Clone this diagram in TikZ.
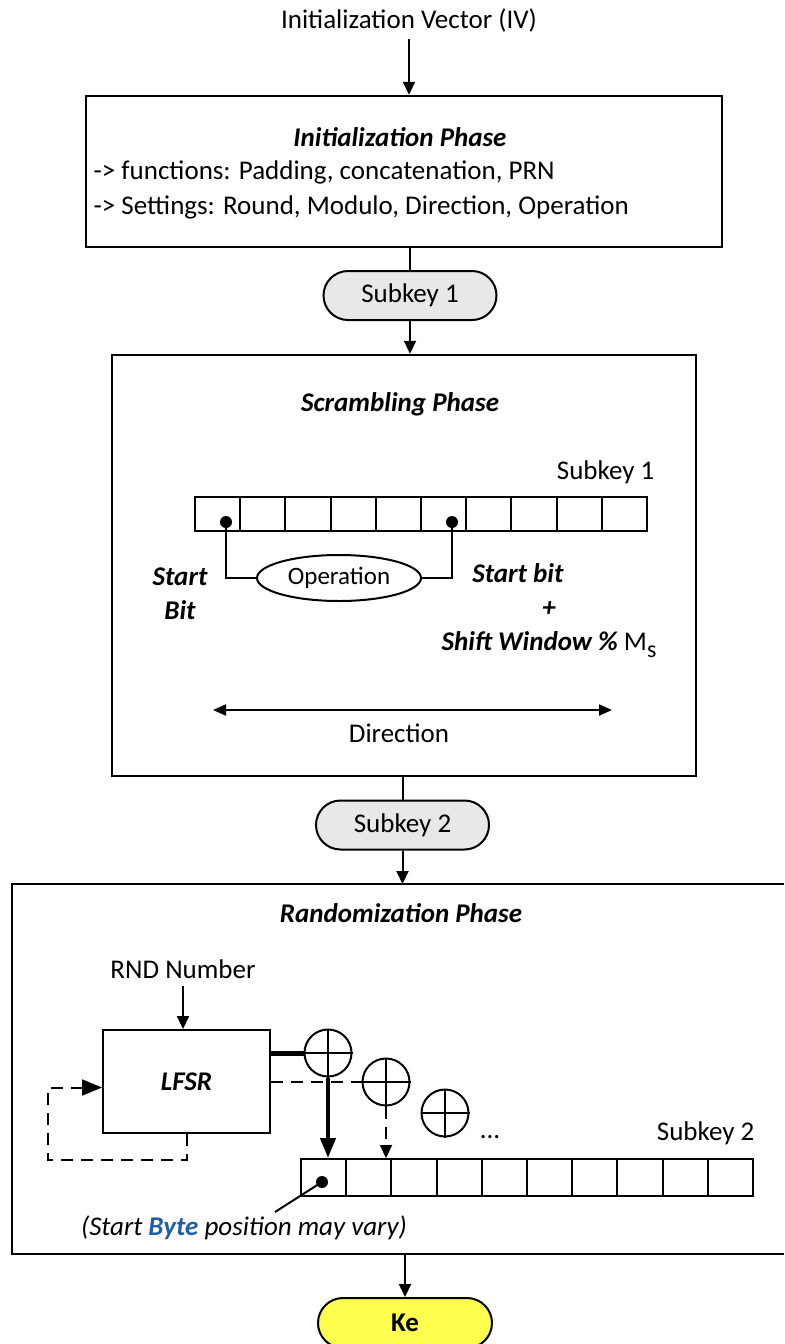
\documentclass[tikz,border=0pt]{standalone}
\usepackage{xcolor}
\usepackage{fontspec}
\setmainfont{Carlito}
\usepackage{tikz}
\usetikzlibrary{shapes.geometric, shapes.misc, arrows.meta, calc}

\definecolor{pillgray}{HTML}{E8E8E8}
\definecolor{keyellow}{HTML}{FFFF4F}
\definecolor{byteblue}{HTML}{1F5FA8}
\newcommand\diagfont{\fontsize{13.5}{17}\selectfont}

\tikzset{
  phasebox/.style={draw, line width=1.2pt, inner sep=0pt},
  pill/.style={rounded rectangle, draw, line width=1pt, fill=pillgray,
    minimum width=86.5pt, minimum height=24.5pt, inner sep=0pt},
  cell/.style={draw, line width=1pt, minimum width=22.6pt, minimum height=17pt, inner sep=0pt},
  xorgate/.style={circle, draw, line width=1pt, minimum size=23.5pt, inner sep=0pt},
  arr/.style={-{Triangle[length=6.5pt,width=6pt]}, line width=1pt},
  bi/.style={font=\diagfont\bfseries\itshape},
  fbdash/.style={dash pattern=on 6pt off 4pt},
}

\begin{document}
\begin{tikzpicture}[x=0.5pt, y=0.5pt, font=\diagfont, line width=1pt]
\useasboundingbox (0,0) rectangle (784,-1344);

% IV and initialization phase
\node (iv) at (409,-20) {Initialization Vector (IV)};
\node[phasebox, minimum width=318pt, minimum height=75.5pt] (init) at (404,-171.5) {};
\node[bi] at (400,-137) {Initialization Phase};
\node[anchor=west] at (86,-172) {-> functions: Padding, concatenation, PRN};
\node[anchor=west] at (86,-207) {-> Settings: Round, Modulo, Direction, Operation};
\draw[arr] (iv.south) -- (iv.south |- init.north);

\node[pill] (sk1) at (410,-295.5) {Subkey 1};
\draw (init.south -| sk1.north) -- (sk1.north);

% scrambling phase
\node[phasebox, minimum width=292pt, minimum height=210.5pt] (scr) at (404,-565.5) {};
\draw[arr] (sk1.south) -- (sk1.south |- scr.north);
\node[bi] at (400,-404) {Scrambling Phase};
\node[anchor=east] at (662,-472) {Subkey 1};
\foreach \i in {0,...,9}
  \node[cell] (a\i) at ({217.6+\i*45.2},-514) {};
\coordinate (sb1) at (226,-522);
\coordinate (sb2) at (452,-522);
\fill (sb1) circle (3pt) (sb2) circle (3pt);
\node[ellipse, draw, minimum width=82pt, minimum height=23pt, inner sep=0pt,
  font=\fontsize{12.5}{14}\selectfont] (op) at (339,-578) {Operation};
\draw (sb1) |- (op.west);
\draw (sb2) |- (op.east);
\node[bi, align=center] at (180,-594) {Start\\Bit};
\node[align=center] at (549,-611) {\textbf{\textit{Start bit}}\hspace*{31pt}\\\textbf{\textit{+}}\hspace*{27pt}\\
  \textbf{\textit{Shift Window \%}} M\raisebox{-0.55ex}{\fontsize{12}{14}\selectfont s}};
\coordinate (dl) at (213,-710);
\coordinate (dr) at (612,-710);
\draw[{Triangle[length=6.5pt,width=5.5pt]}-{Triangle[length=6.5pt,width=5.5pt]}] (dl) -- (dr);
\node at (399,-733) {Direction};

\node[pill] (sk2) at (402.5,-825) {Subkey 2};
\draw (scr.south -| sk2.north) -- (sk2.north);

% randomization phase (box runs off the right edge)
\coordinate (rtop) at (402.5,-884);
\coordinate (rbot) at (405,-1254);
\draw[arr] (sk2.south) -- (rtop);
\draw[line width=1.2pt] (784,-884) -| (12,-1254) -- (784,-1254);
\node[bi] at (401,-913) {Randomization Phase};
\node (rnd) at (183,-969) {RND Number};
\node[draw, line width=1pt, minimum width=83.5pt, minimum height=51.5pt, bi] (lfsr) at (186.5,-1081.5) {LFSR};
\draw[arr] (rnd.south) -- (rnd.south |- lfsr.north);

\foreach \n/\x/\y in {x1/328/-1053, x2/386/-1082, x3/445/-1113} {
  \node[xorgate] (\n) at (\x,\y) {};
  \draw (\n.north) -- (\n.south) (\n.west) -- (\n.east);
}
\node[anchor=base] at (490,-1138) {...};
\draw[line width=2.5pt] (lfsr.east |- x1) -- (x1.west);
\draw[fbdash] (lfsr.east |- x2) -- (x2.west);

\foreach \i in {0,...,9}
  \node[cell, minimum height=18.5pt] (b\i) at ({323.6+\i*45.2},-1177.5) {};
\draw[-{Triangle[length=10pt,width=7.5pt]}, line width=2pt] (x1.south) -- (x1.south |- b0.north);
\draw[arr, fbdash] (x2.south) -- (x2.south |- b0.north);
\node[anchor=east] at (762,-1133) {Subkey 2};

\coordinate (bd) at (322,-1182);
\fill (bd) circle (3pt);
\node (note) at (244,-1228) {\textit{(Start \textcolor{byteblue}{\textbf{Byte}} position may vary)}};
\coordinate (nt) at (275,-1212);
\draw (bd) -- (nt);

% feedback loop
\coordinate (fb) at (48,-1160);
\draw[fbdash, -{Triangle[length=10pt,width=8pt]}] (lfsr.south) |- (fb) |- ($(lfsr.west)+(0,-6)$);

% output key
\node[pill, fill=keyellow, minimum width=87pt, minimum height=25pt, font=\diagfont\bfseries] (ke) at (405,-1323) {Ke};
\draw[arr] (rbot) -- (ke.north);
\end{tikzpicture}
\end{document}
